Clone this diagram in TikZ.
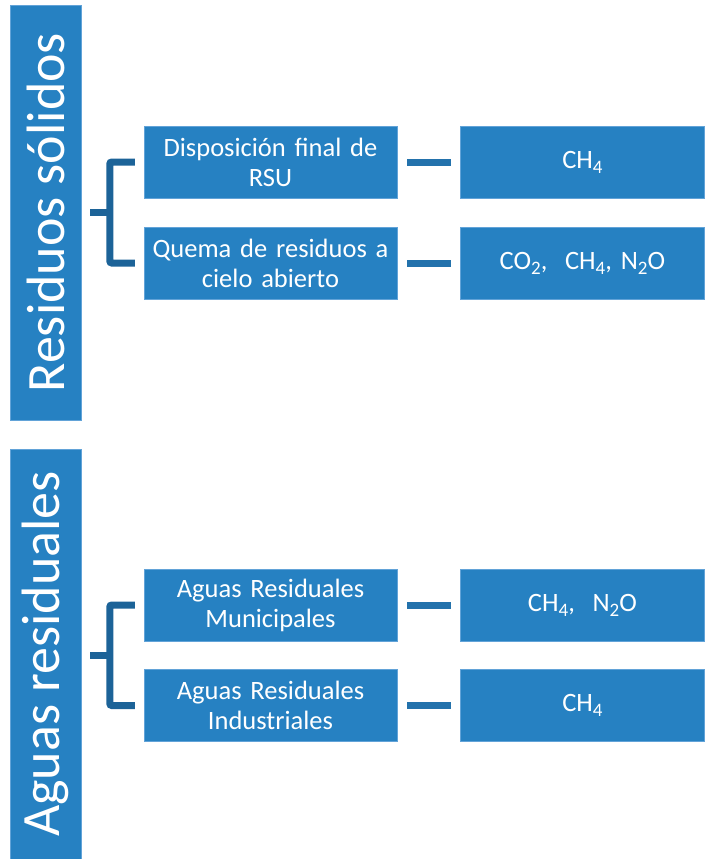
\documentclass[tikz,border=0pt]{standalone}
\usepackage{fontspec}
\setmainfont{Carlito}
\usetikzlibrary{positioning,calc}
\definecolor{azul}{HTML}{2681C2}
\definecolor{borde}{HTML}{62A3D8}
\definecolor{llavec}{HTML}{1C6398}
\definecolor{guionc}{HTML}{2372AC}
\newcommand{\bajo}[1]{\raisebox{-5pt}{\fontsize{19}{19}\selectfont #1}}

\begin{document}
\begin{tikzpicture}[
  x=1pt, y=-1pt,
  node distance=63pt,
  every node/.style={text=white},
  barra/.style={draw=borde, thin, fill=azul, rotate=90, inner sep=0pt,
                minimum height=71pt, font=\fontsize{54}{54}\selectfont},
  caja/.style={draw=borde, thin, fill=azul, align=center, inner sep=0pt,
               text width=253pt, minimum height=72pt,
               font=\fontsize{26.5}{30}\selectfont},
  gas/.style={caja, text width=244pt},
  llave/.style={draw=llavec, line width=7pt, rounded corners=2pt},
  guion/.style={draw=guionc, line width=7pt, shorten <=10pt, shorten >=9pt}
]
\useasboundingbox (0,0) rectangle (704,859);
% columnas de la izquierda
\node[barra, minimum width=415pt] (solidos) at (45.5,212.5) {Residuos sólidos};
\node[barra, minimum width=410pt] (aguas)   at (45.5,654)   {Aguas residuales};
% residuos solidos
\node[caja] (dispo) at (270.5,162) {Disposición final de\\RSU};
\node[caja] (quema) at (270.5,263) {Quema de residuos a\\cielo abierto};
\node[gas, right=of dispo] (gasA) {CH\bajo{4}};
\node[gas, right=of quema] (gasB) {CO\bajo{2},\ \ CH\bajo{4}, N\bajo{2}O};
% aguas residuales
\node[caja] (munic) at (270.5,605)   {Aguas Residuales\\Municipales};
\node[caja] (indus) at (270.5,705.5) {Aguas Residuales\\Industriales};
\node[gas, right=of munic] (gasC) {CH\bajo{4},\ \ N\bajo{2}O};
\node[gas, right=of indus] (gasD) {CH\bajo{4}};
% llaves
\coordinate (k1) at ($(dispo.west)!0.5!(quema.west)+(-34,0)$);
\coordinate (k2) at ($(munic.west)!0.5!(indus.west)+(-34,0)$);
\draw[llave] ([xshift=-9pt]dispo.west) -| (k1) |- ([xshift=-9pt]quema.west);
\draw[llave] (k1) -- ++(-20,0);
\draw[llave] ([xshift=-9pt]munic.west) -| (k2) |- ([xshift=-9pt]indus.west);
\draw[llave] (k2) -- ++(-20,0);
% guiones
\draw[guion] (dispo) -- (gasA);
\draw[guion] (quema) -- (gasB);
\draw[guion] (munic) -- (gasC);
\draw[guion] (indus) -- (gasD);
\end{tikzpicture}
\end{document}
